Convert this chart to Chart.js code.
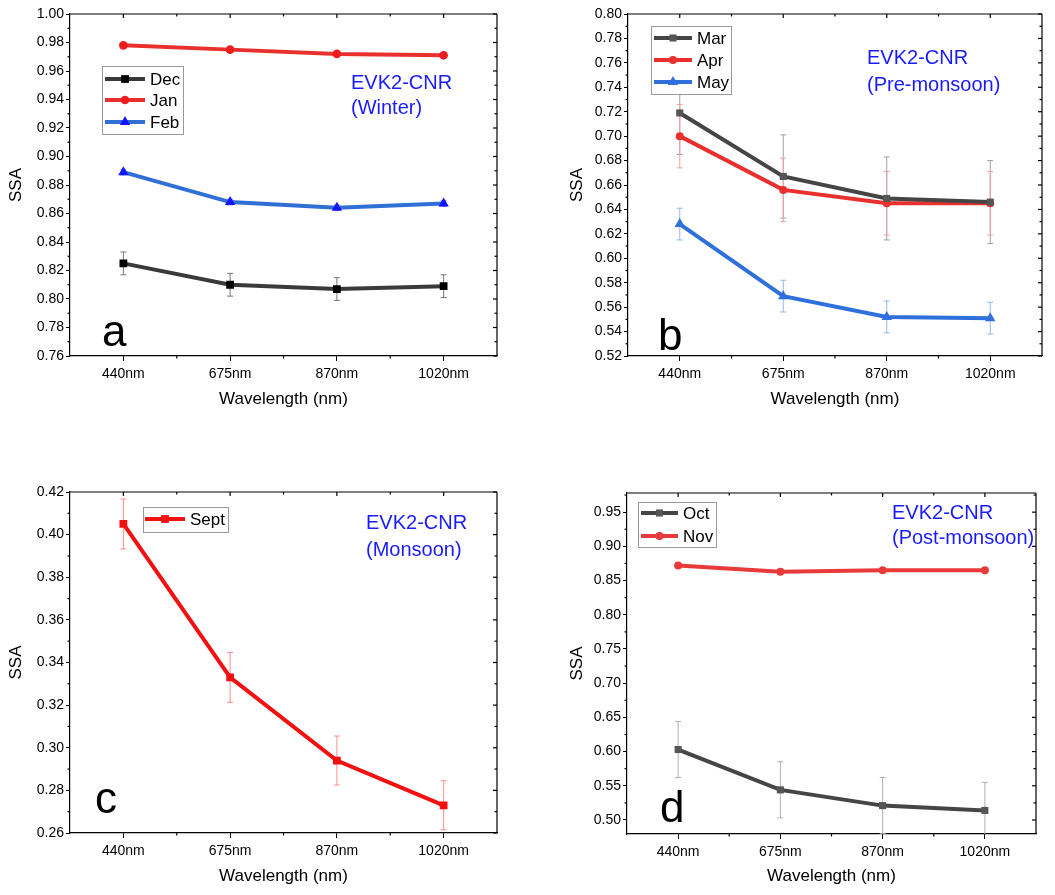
<!DOCTYPE html>
<html>
<head>
<meta charset="utf-8">
<script src="https://cdn.jsdelivr.net/npm/chart.js@4.4.0/dist/chart.umd.min.js"></script>
<style>
body { margin: 0; background: #fff; width: 1055px; height: 895px; overflow: hidden; position: relative; }
canvas { position: absolute; }
</style>
</head>
<body>
<canvas id="ca" width="515" height="420" style="left:0;top:0"></canvas>
<canvas id="cb" width="497" height="420" style="left:558px;top:0"></canvas>
<canvas id="cc" width="515" height="425" style="left:0;top:470px"></canvas>
<canvas id="cd" width="498" height="425" style="left:557px;top:470px"></canvas>
<script>
var wavelengths = ['440nm', '675nm', '870nm', '1020nm'];

// (a) winter
var dec = [0.825, 0.810, 0.807, 0.809];
var decErr = [0.008, 0.008, 0.008, 0.008];
var jan = [0.978, 0.975, 0.972, 0.971];
var janErr = [0.001, 0.001, 0.001, 0.001];
var feb = [0.889, 0.868, 0.864, 0.867];
var febErr = [0.002, 0.002, 0.002, 0.002];
// (b) pre-monsoon
var mar = [0.719, 0.667, 0.649, 0.646];
var marErr = [0.034, 0.034, 0.034, 0.034];
var apr = [0.700, 0.656, 0.645, 0.645];
var aprErr = [0.026, 0.026, 0.026, 0.026];
var may = [0.628, 0.569, 0.552, 0.551];
var mayErr = [0.013, 0.013, 0.013, 0.013];
// (c) monsoon
var sept = [0.405, 0.333, 0.294, 0.273];
var septErr = [0.0117, 0.0117, 0.0115, 0.0115];
// (d) post-monsoon
var oct = [0.603, 0.544, 0.521, 0.514];
var octErr = [0.041, 0.041, 0.041, 0.041];
var nov = [0.872, 0.863, 0.865, 0.865];
var novErr = [0.001, 0.001, 0.001, 0.001];

var yTicksA = [0.76, 0.78, 0.80, 0.82, 0.84, 0.86, 0.88, 0.90, 0.92, 0.94, 0.96, 0.98, 1.00];
var yTicksB = [0.52, 0.54, 0.56, 0.58, 0.60, 0.62, 0.64, 0.66, 0.68, 0.70, 0.72, 0.74, 0.76, 0.78, 0.80];
var yTicksC = [0.26, 0.28, 0.30, 0.32, 0.34, 0.36, 0.38, 0.40, 0.42];
var yTicksD = [0.50, 0.55, 0.60, 0.65, 0.70, 0.75, 0.80, 0.85, 0.90, 0.95];
var yRangeA = [0.76, 1.00];
var yRangeB = [0.52, 0.80];
var yRangeC = [0.26, 0.42];
var yRangeD = [0.4795, 0.978];

var FONT = '"Liberation Sans", Arial, sans-serif';
var BLUE_TXT = '#1a1aff';

function series(label, data, line, marker, style, r) {
    return {
        label: label,
        data: data,
        borderColor: line,
        borderWidth: 4,
        pointStyle: style,
        pointRadius: r,
        pointBackgroundColor: marker,
        pointBorderColor: marker,
        pointBorderWidth: 0,
        tension: 0
    };
}

function line(ctx, x1, y1, x2, y2) {
    ctx.beginPath();
    ctx.moveTo(x1, y1);
    ctx.lineTo(x2, y2);
    ctx.stroke();
}

// error bars, frame, minor ticks, legend and labels for one panel
function makeDeco(p) {
    return {
        id: 'deco',
        beforeDatasetsDraw: function (chart) {
            var ctx = chart.ctx, a = chart.chartArea, x = chart.scales.x, y = chart.scales.y;
            ctx.save();
            ctx.beginPath();
            ctx.rect(a.left, a.top, a.right - a.left, a.bottom - a.top);
            ctx.clip();
            ctx.lineWidth = 1;
            chart.data.datasets.forEach(function (ds, k) {
                var err = p.errs[k];
                ctx.strokeStyle = p.errColors[k];
                ds.data.forEach(function (v, i) {
                    var px = x.getPixelForValue(i);
                    var t = y.getPixelForValue(v + err[i]);
                    var b = y.getPixelForValue(v - err[i]);
                    line(ctx, px, t, px, b);
                    line(ctx, px - 3, t, px + 3, t);
                    line(ctx, px - 3, b, px + 3, b);
                });
            });
            ctx.restore();
        },
        afterDraw: function (chart) {
            var ctx = chart.ctx, a = chart.chartArea, x = chart.scales.x, y = chart.scales.y;
            ctx.save();
            ctx.strokeStyle = '#000';
            ctx.lineWidth = 1.2;
            line(ctx, a.left, a.top, a.right, a.top);
            line(ctx, a.right, a.top, a.right, a.bottom);

            var yv = p.ticks;
            var step = yv[1] - yv[0];
            yv.forEach(function (v) {
                var py = y.getPixelForValue(v);
                line(ctx, a.right, py, a.right - 4, py);
            });
            for (var i = -1; i < yv.length; i++) {
                var m = yv[0] + (i + 0.5) * step;
                if (m < y.min || m > y.max) continue;
                var py = y.getPixelForValue(m);
                line(ctx, a.left, py, a.left - 2.5, py);
                line(ctx, a.right, py, a.right - 2.5, py);
            }
            for (var j = 0; j < wavelengths.length; j++) {
                var px = x.getPixelForValue(j);
                line(ctx, px, a.top, px, a.top + 4);
                if (j < wavelengths.length - 1) {
                    var mx = (px + x.getPixelForValue(j + 1)) / 2;
                    line(ctx, mx, a.bottom, mx, a.bottom + 2.5);
                    line(ctx, mx, a.top, mx, a.top + 2.5);
                }
            }

            // legend
            var L = p.legend;
            ctx.fillStyle = '#fff';
            ctx.fillRect(L.box[0], L.box[1], L.box[2], L.box[3]);
            ctx.strokeStyle = '#999';
            ctx.lineWidth = 1;
            ctx.strokeRect(L.box[0] + 0.5, L.box[1] + 0.5, L.box[2], L.box[3]);
            chart.data.datasets.forEach(function (ds, k) {
                var ry = L.rows[k];
                ctx.strokeStyle = ds.borderColor;
                ctx.lineWidth = 4;
                line(ctx, L.x0, ry, L.x1, ry);
                ctx.fillStyle = ds.pointBackgroundColor;
                ctx.strokeStyle = ds.pointBackgroundColor;
                Chart.helpers.drawPoint(ctx, { pointStyle: ds.pointStyle, radius: ds.pointRadius, rotation: 0, borderWidth: 0 }, (L.x0 + L.x1) / 2, ry);
                ctx.fillStyle = '#000';
                ctx.font = '17px ' + FONT;
                ctx.textBaseline = 'middle';
                ctx.textAlign = 'left';
                ctx.fillText(ds.label, L.tx, ry + 1);
            });

            // site / season note
            ctx.fillStyle = BLUE_TXT;
            ctx.font = '20px ' + FONT;
            ctx.textBaseline = 'middle';
            p.note.lines.forEach(function (s, k) {
                ctx.fillText(s, p.note.x, p.note.ys[k]);
            });

            // panel letter
            ctx.fillStyle = '#000';
            ctx.font = '44px ' + FONT;
            ctx.textBaseline = 'alphabetic';
            ctx.fillText(p.letter[0], p.letter[1], p.letter[2]);
            ctx.restore();
        }
    };
}

function makePanel(id, p) {
    var yWidth = 70;
    return new Chart(document.getElementById(id), {
        type: 'line',
        data: { labels: wavelengths, datasets: p.datasets },
        plugins: [makeDeco(p)],
        options: {
            responsive: false,
            animation: false,
            layout: { padding: { top: p.padTop, right: p.padRight, left: 0, bottom: 0 } },
            plugins: { legend: { display: false }, tooltip: { enabled: false } },
            scales: {
                x: {
                    type: 'category',
                    offset: true,
                    afterFit: function (s) { s.height = p.xHeight; },
                    border: { display: true, color: '#000', width: 1.2 },
                    grid: { drawOnChartArea: false, drawTicks: true, tickLength: 5, tickColor: '#000', offset: false },
                    ticks: { color: '#000', font: { family: FONT, size: 14 }, padding: 5, maxRotation: 0 },
                    title: { display: true, text: 'Wavelength (nm)', color: '#000', font: { family: FONT, size: 17 }, padding: { top: 0, bottom: p.xTitlePad } }
                },
                y: {
                    min: p.range[0],
                    max: p.range[1],
                    afterFit: function (s) { s.width = yWidth; },
                    afterBuildTicks: function (s) { s.ticks = p.ticks.map(function (v) { return { value: v }; }); },
                    border: { display: true, color: '#000', width: 1.2 },
                    grid: { drawOnChartArea: false, drawTicks: true, tickLength: 4, tickColor: '#000' },
                    ticks: {
                        color: '#000', font: { family: FONT, size: 14 }, padding: 2, autoSkip: false,
                        callback: function (v) { return Number(v).toFixed(2); }
                    },
                    title: { display: true, text: 'SSA', color: '#000', font: { family: FONT, size: 17 }, padding: { top: p.yTitlePad, bottom: 0 } }
                }
            }
        }
    });
}

makePanel('ca', {
    datasets: [
        series('Dec', dec, '#3a3a3a', '#000000', 'rect', 5.5),
        series('Jan', jan, '#e8302f', '#ee1c1c', 'circle', 4.3),
        series('Feb', feb, '#2f6fd6', '#1515ff', 'triangle', 6)
    ],
    errs: [decErr, janErr, febErr],
    errColors: ['#777777', '#f08080', '#80a0f0'],
    ticks: yTicksA, range: yRangeA,
    padTop: 14, padRight: 18, xHeight: 64, xTitlePad: 10, yTitlePad: 6,
    legend: { box: [102, 66, 81, 68], rows: [79, 100, 122], x0: 105, x1: 145, tx: 150 },
    note: { x: 351, ys: [83, 108], lines: ['EVK2-CNR', '(Winter)'] },
    letter: ['a', 102, 346]
});

makePanel('cb', {
    datasets: [
        series('Mar', mar, '#454545', '#555555', 'rect', 5),
        series('Apr', apr, '#e8302f', '#e8302f', 'circle', 4),
        series('May', may, '#2f70dc', '#2f70dc', 'triangle', 6)
    ],
    errs: [marErr, aprErr, mayErr],
    errColors: ['#a0a0a0', '#f0a0a0', '#90b8f0'],
    ticks: yTicksB, range: yRangeB,
    padTop: 14, padRight: 13, xHeight: 64, xTitlePad: 10, yTitlePad: 9,
    legend: { box: [93, 26, 80, 68], rows: [38, 60, 82], x0: 96, x1: 134, tx: 139 },
    note: { x: 309, ys: [58, 85], lines: ['EVK2-CNR', '(Pre-monsoon)'] },
    letter: ['b', 100, 350]
});

makePanel('cc', {
    datasets: [
        series('Sept', sept, '#f21010', '#f21010', 'rect', 5.5)
    ],
    errs: [septErr],
    errColors: ['#ff8c8c'],
    ticks: yTicksC, range: yRangeC,
    padTop: 22, padRight: 18, xHeight: 62, xTitlePad: 8, yTitlePad: 6,
    legend: { box: [143, 37, 85, 25], rows: [49], x0: 145, x1: 185, tx: 190 },
    note: { x: 366, ys: [53, 80], lines: ['EVK2-CNR', '(Monsoon)'] },
    letter: ['c', 95, 343]
});

makePanel('cd', {
    datasets: [
        series('Oct', oct, '#454545', '#555555', 'rect', 5),
        series('Nov', nov, '#e83a3a', '#e83a3a', 'circle', 4)
    ],
    errs: [octErr, novErr],
    errColors: ['#b0b0b0', '#f0a0a0'],
    ticks: yTicksD, range: yRangeD,
    padTop: 23, padRight: 19, xHeight: 61, xTitlePad: 8, yTitlePad: 10,
    legend: { box: [81, 32, 78, 45], rows: [43, 66], x0: 84, x1: 121, tx: 126 },
    note: { x: 335, ys: [43, 68], lines: ['EVK2-CNR', '(Post-monsoon)'] },
    letter: ['d', 103, 352]
});
</script>
</body>
</html>
